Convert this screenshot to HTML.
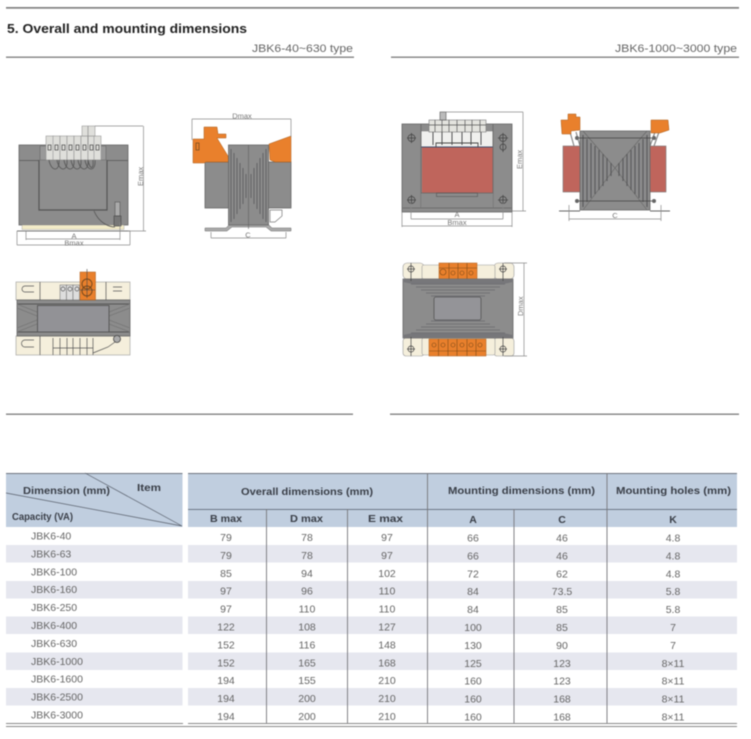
<!DOCTYPE html>
<html>
<head>
<meta charset="utf-8">
<style>
html,body{margin:0;padding:0;background:#fff;width:751px;height:739px;overflow:hidden}
svg{display:block;filter:blur(0.45px)}
text{font-family:"Liberation Sans",sans-serif}
.d{font-size:7.5px;fill:#777}
.h{font-size:10.5px;font-weight:bold;fill:#3a3f48}
.n text{font-size:10.5px;fill:#666;text-anchor:middle}
.l text{font-size:10.5px;fill:#666}
.c{fill:#8c8c8c;stroke:#666;stroke-width:.8}
.o{fill:#e9802c;stroke:#a85a18;stroke-width:.5}
.w{fill:#f5efdc;stroke:#999;stroke-width:.6}
.dl{stroke:#8a8a8a;stroke-width:.7;fill:none}
.s{stroke:#5d5d5f;stroke-width:.8;fill:none}
</style>
</head>
<body>
<svg width="751" height="739" viewBox="0 0 751 739" xmlns="http://www.w3.org/2000/svg">
<rect x="6" y="7" width="733" height="1.7" fill="#808080"/>
<text x="7" y="33" font-size="13" font-weight="bold" fill="#222" textLength="240" lengthAdjust="spacingAndGlyphs">5. Overall and mounting dimensions</text>
<text x="252" y="52" font-size="11" fill="#666" textLength="101" lengthAdjust="spacingAndGlyphs">JBK6-40~630 type</text>
<text x="615" y="52" font-size="11" fill="#666" textLength="122" lengthAdjust="spacingAndGlyphs">JBK6-1000~3000 type</text>
<rect x="6" y="56.6" width="348" height="1.2" fill="#707070"/>
<rect x="391" y="56.6" width="348" height="1.2" fill="#707070"/>
<rect x="6" y="413.6" width="347" height="1.2" fill="#707070"/>
<rect x="390" y="413.6" width="349" height="1.2" fill="#707070"/>

<!-- LEFT FRONT -->
<rect class="c" x="19" y="145" width="109" height="80"/>
<path d="M39 160V210H107V160" fill="#8e8e8e" stroke="#555" stroke-width="1.2"/>
<path d="M19 160.500H39M107 160.500H128" stroke="#555" stroke-width=".8"/>
<path d="M40 146H106V160H40z" fill="#999" stroke="#666" stroke-width=".6"/>
<rect x="22" y="225" width="102" height="4.500" fill="#f3ecc9" stroke="#999" stroke-width=".4"/>
<path d="M17 231H130" stroke="#777" stroke-width="1"/>
<path d="M17 231V245M130 231V245" class="dl"/>
<g fill="#dfdfdb" stroke="#888" stroke-width=".5">
<rect x="46" y="136" width="7.500" height="24"/><rect x="53" y="136" width="7" height="24"/><rect x="60" y="136" width="7" height="24"/><rect x="67" y="136" width="7" height="24"/><rect x="74" y="136" width="7" height="24"/><rect x="81" y="136" width="7" height="24"/><rect x="88" y="136" width="6.500" height="24"/><rect x="94" y="136" width="7" height="24"/>
<rect x="82" y="126" width="13" height="10"/>
</g>
<g fill="none" stroke="#555" stroke-width=".8">
<rect x="48" y="145" width="3" height="5"/><rect x="55" y="145" width="3" height="5"/><rect x="62" y="145" width="3" height="5"/><rect x="69" y="145" width="3" height="5"/><rect x="76" y="145" width="3" height="5"/><rect x="83" y="145" width="3" height="5"/><rect x="90" y="145" width="3" height="5"/><rect x="96" y="145" width="3" height="5"/>
<path d="M49 160c2 12 11 12 10 0M57 160c2 12 11 12 10 0M64 160c2 12 11 12 10 0M71 160c2 12 11 12 10 0M78 160c2 12 11 12 10 0M85 160c2 12 11 12 10 0M88 160c2 10 6 10 5 0"/>
<path d="M94 211c5 12 15 16 21 16"/>
</g>
<rect x="115" y="202" width="5" height="14" fill="#aaa" stroke="#555" stroke-width=".6"/>
<rect x="114" y="216" width="7" height="10" fill="#777" stroke="#444" stroke-width=".6"/>
<path d="M88 126V149M120 222V240M26 231V240M95 126H143M128 231H146M143.500 126V231M26 239H120M17 245H130" class="dl"/>
<text class="d" x="74" y="238.500" text-anchor="middle">A</text>
<text class="d" x="74" y="245.500" text-anchor="middle">Bmax</text>
<text class="d" transform="translate(143,186) rotate(-90)">Emax</text>

<!-- LEFT SIDE -->
<rect class="c" x="205" y="162" width="86" height="46"/>
<path class="o" d="M193 139H204V127H217L218 134H226V138H217L228 156L229 162H206L204 163H193Z"/>
<path class="o" d="M269 144L291 136V162H275L270 160Z"/>
<rect x="196" y="143" width="3" height="7" fill="none" stroke="#6d4a20" stroke-width=".7"/>
<path d="M205 228H226L231 223H267L272 228H291V231H271L266 227H232L227 231H205Z" fill="#aaa" stroke="#666" stroke-width=".5"/>
<rect class="c" x="228.500" y="145" width="40" height="80"/>
<g stroke="#5f5f61" stroke-width=".9">
<path d="M231 149V222M234 153V219M237 158V214M240 163V209M243 168V204M246 174V198"/>
<path d="M266 149V222M263 153V219M260 158V214M257 163V209M254 168V204M251 174V198"/>
<path d="M248.500 145V229" stroke-width=".6"/>
</g>
<path d="M270 210H282V216L275 222H270Z" fill="none" stroke="#777" stroke-width=".7"/>
<path d="M192 119H291M192 119V140M291 119V137M211 232V238M286 232V238M211 238H286" class="dl"/>
<text class="d" x="242" y="118.500" text-anchor="middle">Dmax</text>
<text class="d" x="248" y="237.500" text-anchor="middle">C</text>

<!-- LEFT BOTTOM -->
<rect class="w" x="16" y="282" width="114" height="18"/>
<rect class="w" x="16" y="336" width="114" height="19"/>
<rect class="c" x="17" y="300" width="113" height="36"/>
<path d="M17 304H130M17 332H130" stroke="#555" stroke-width="1"/>
<path d="M17 304L37 312M17 308L37 316M17 332L37 324M17 328L37 320M130 304L109 312M130 308L109 316M130 332L109 324M130 328L109 320" stroke="#777" stroke-width=".8"/>
<rect x="37.500" y="305.500" width="71.500" height="26.500" fill="#929296" stroke="#555" stroke-width=".9"/>
<rect class="o" x="80" y="272" width="15.500" height="28"/>
<circle cx="87" cy="284" r="5" fill="none" stroke="#7a4a1c"/><circle cx="87" cy="291" r="5" fill="none" stroke="#7a4a1c"/>
<path d="M87 269V298M80 290H95" stroke="#444" stroke-width=".6"/>
<g fill="#ddd" stroke="#666" stroke-width=".5"><rect x="60" y="285" width="6.500" height="15"/><rect x="66.500" y="285" width="6.500" height="15"/><rect x="73" y="285" width="6.500" height="15"/></g>
<g fill="none" stroke="#555" stroke-width=".7">
<circle cx="63" cy="289" r="2"/><circle cx="70" cy="289" r="2"/><circle cx="77" cy="289" r="2"/>
<path d="M34 286H25a3 3 0 0 0 0 6H34M34 347H25a3 3 0 0 1 0-7H34M113 287H122M113 291H122M40 282V300M106 282V300M40 336V355"/>
<path d="M53 338V355M60 338V355M67 338V355M73 338V355M80 338V355M87 338V355M93 338V355M53 348H93M93 353L108 347L115 342"/>
</g>
<circle cx="117" cy="339" r="3.500" fill="#aaa" stroke="#444" stroke-width=".8"/>

<!-- RIGHT FRONT -->
<rect class="c" x="402" y="124" width="110" height="88"/>
<rect x="421" y="131" width="72" height="16" fill="#f0f0ee" stroke="#777" stroke-width=".5"/>
<rect x="422" y="147" width="71" height="46" fill="#bf655c"/>
<path d="M421 147H493" stroke="#3f4d6e" stroke-width="1"/>
<path d="M421 124V208M493 124V208" stroke="#666" stroke-width=".8"/>
<rect x="421" y="193" width="72" height="15" fill="#8c8c8c"/>
<path d="M421 193H493M402 208H421M493 208H512M421 208H493" stroke="#666" stroke-width=".7"/>
<rect x="436.500" y="193" width="41" height="3.500" fill="none" stroke="#555" stroke-width=".6"/>
<rect x="429" y="120" width="57" height="12" fill="#e4e4df" stroke="#777" stroke-width=".6"/>
<path d="M435 120V132M442 120V132M449 120V132M457 120V132M465 120V132M472 120V132M480 120V132M429 125H486" stroke="#555" stroke-width=".7"/>
<rect x="440" y="112" width="6" height="8" fill="#bbb" stroke="#555" stroke-width=".6"/>
<path d="M433 132V145M442 132V145M452 132V145M462 132V145M471 132V145M481 132V145M436 147V143H478V147" stroke="#444" stroke-width=".9" fill="none"/>
<g fill="none" stroke="#444" stroke-width=".8">
<circle cx="411.500" cy="138" r="3.500"/><circle cx="503" cy="138" r="3.500"/><circle cx="411.500" cy="200" r="3.500"/><circle cx="503" cy="200" r="3.500"/><circle cx="503" cy="147" r="3"/>
<path d="M407 138H416M411.500 133V143M498 138H508M503 133V152M407 200H416M411.500 195V204M498 200H508M503 195V204"/>
</g>
<path d="M446 112H523M512 211H526M523 112V211M411 203V219M503 203V219M411 219H503M402 212V227M512 212V227M402 226H512" class="dl"/>
<text class="d" x="457" y="217" text-anchor="middle">A</text>
<text class="d" x="457" y="225" text-anchor="middle">Bmax</text>
<text class="d" transform="translate(522,169) rotate(-90)">Emax</text>

<!-- RIGHT SIDE -->
<rect x="563" y="146" width="18" height="46" fill="#bf655c" stroke="#777" stroke-width=".6"/>
<rect x="650" y="146" width="16" height="46" fill="#bf655c" stroke="#777" stroke-width=".6"/>
<path d="M570 132L574 146M576 132L580 146M659 132L654 146M655 132L650 146" stroke="#888" stroke-width="1.200"/>
<path class="o" d="M561 120H568V114H576V117H580V130L571 131V134H562Z"/>
<path class="o" d="M651 120H668L669 130L660 133H651Z"/>
<rect class="c" x="580" y="131" width="70" height="79"/>
<path d="M583 131L615 168L583 210M647 131L615 168L647 210" fill="none" stroke="#666" stroke-width=".6"/>
<g stroke="#58585a" stroke-width="1.100">
<path d="M583 135V207M587 139V202M591 143V198M595 146V194M599 150V190M603 154V186M607 158V181M611 163V176"/>
<path d="M647 135V207M643 139V202M639 143V198M635 146V194M631 150V190M627 154V186M623 158V181M619 163V176"/>
</g>
<path d="M576 138H655M576 201H655" stroke="#444" stroke-width=".8"/>
<path d="M559 211H580M650 211H670" stroke="#666" stroke-width="1"/>
<circle cx="577" cy="138" r="2" fill="#666"/><circle cx="654" cy="138" r="2" fill="#666"/><circle cx="577" cy="201" r="2" fill="#666"/><circle cx="654" cy="201" r="2" fill="#666"/>
<path d="M569 205V221M661 205V221M569 219H661" class="dl"/>
<text class="d" x="615" y="218" text-anchor="middle">C</text>

<!-- RIGHT BOTTOM -->
<rect class="w" x="403" y="263" width="21" height="16" rx="4"/>
<rect class="w" x="494" y="263" width="20" height="16" rx="4"/>
<rect class="w" x="422" y="265" width="73" height="14" rx="2"/>
<rect class="w" x="403" y="338" width="21" height="18" rx="3"/>
<rect class="w" x="494" y="338" width="20" height="18" rx="3"/>
<rect class="w" x="422" y="338" width="73" height="17" rx="2"/>
<rect class="o" x="439" y="263" width="38" height="17"/>
<rect class="o" x="429" y="339" width="57" height="17"/>
<g stroke="#7d4a18" stroke-width=".6" fill="none">
<circle cx="443" cy="272" r="3"/><circle cx="453" cy="273" r="2"/><circle cx="462" cy="273" r="2"/><circle cx="471" cy="273" r="2"/>
<path d="M449 263V280M458 263V280M467 263V280M439 268H477"/>
<circle cx="434" cy="345" r="2"/><circle cx="443" cy="345" r="2"/><circle cx="453" cy="345" r="2"/><circle cx="462" cy="345" r="2"/><circle cx="471" cy="345" r="2"/><circle cx="480" cy="345" r="2"/>
<path d="M438.500 339V356M448 339V356M457 339V356M467 339V356M476 339V356M429 351H486"/>
</g>
<path class="c" d="M403 279H513V338H403Z"/>
<path d="M403 279H513V282L503 284H413L403 282Z" fill="#77777a"/>
<path d="M403 338H513V335L503 333H413L403 335Z" fill="#77777a"/>
<g stroke="#707074" stroke-width=".9">
<path d="M411 284H505M416 287H500M421 290H495M426 293H490M431 296H485M411 333H505M416 330H500M421 327H495M426 324H490M431 321H485"/>
</g>
<rect x="434" y="297" width="47" height="23" rx="2" fill="#949498" stroke="#555" stroke-width=".8"/>
<g fill="none" stroke="#444" stroke-width=".7">
<circle cx="411" cy="269" r="3"/><circle cx="503" cy="269" r="3"/><circle cx="411" cy="349" r="3"/><circle cx="503" cy="349" r="3"/>
<path d="M411 263V281M503 263V281M411 337V356M503 337V356M407 269H415M499 269H507M407 349H415M499 349H507"/>
</g>
<path d="M504 263H527M504 356H527M524 263V356" class="dl"/>
<text class="d" transform="translate(523,316) rotate(-90)">Dmax</text>

<!-- TABLE -->
<rect x="6" y="473" width="176.500" height="54" fill="#c0cedf"/>
<rect x="188" y="473" width="549" height="54" fill="#c0cedf"/>
<rect x="6" y="473" width="176.500" height="1" fill="#6f7680"/>
<rect x="188" y="473" width="549" height="1" fill="#6f7680"/>
<rect x="188" y="509" width="549" height=".9" fill="#66707e"/>
<g fill="#e6e7ef">
<rect x="6" y="545" width="176.500" height="17.500"/><rect x="188" y="545" width="549" height="17.500"/>
<rect x="6" y="581" width="176.500" height="17.500"/><rect x="188" y="581" width="549" height="17.500"/>
<rect x="6" y="616.500" width="176.500" height="17.500"/><rect x="188" y="616.500" width="549" height="17.500"/>
<rect x="6" y="652.500" width="176.500" height="17.500"/><rect x="188" y="652.500" width="549" height="17.500"/>
<rect x="6" y="688" width="176.500" height="17.500"/><rect x="188" y="688" width="549" height="17.500"/>
</g>
<path d="M85 473L182 526M6 493L182 526" stroke="#59606c" stroke-width=".7"/>
<path d="M266.500 509V724M347.500 509V724M427.500 473V724M514 509V724M607 473V724" stroke="#77777c" stroke-width=".9"/>
<path d="M6 723.500H183M188 723.500H737" stroke="#8a8a8a" stroke-width="1"/>
<path d="M6 726.500H737" stroke="#8a8a8a" stroke-width="1"/>

<text class="h" x="23" y="494" textLength="87" lengthAdjust="spacingAndGlyphs">Dimension (mm)</text>
<text class="h" x="137" y="491" textLength="24" lengthAdjust="spacingAndGlyphs">Item</text>
<text class="h" x="12" y="520" textLength="61" lengthAdjust="spacingAndGlyphs">Capacity (VA)</text>
<text class="h" x="241" y="495" textLength="132" lengthAdjust="spacingAndGlyphs">Overall dimensions (mm)</text>
<text class="h" x="448" y="494" textLength="147" lengthAdjust="spacingAndGlyphs">Mounting dimensions (mm)</text>
<text class="h" x="616" y="494" textLength="115" lengthAdjust="spacingAndGlyphs">Mounting holes (mm)</text>
<text class="h" x="210" y="522" textLength="32" lengthAdjust="spacingAndGlyphs">B max</text>
<text class="h" x="290" y="522" textLength="33" lengthAdjust="spacingAndGlyphs">D max</text>
<text class="h" x="368" y="522" textLength="35" lengthAdjust="spacingAndGlyphs">E max</text>
<text class="h" x="473" y="523" text-anchor="middle">A</text>
<text class="h" x="562" y="523" text-anchor="middle">C</text>
<text class="h" x="673" y="523" text-anchor="middle">K</text>

<g class="l">
<text x="31" y="539.500">JBK6-40</text>
<text x="31" y="557.400">JBK6-63</text>
<text x="31" y="575.300">JBK6-100</text>
<text x="31" y="593.200">JBK6-160</text>
<text x="31" y="611.100">JBK6-250</text>
<text x="31" y="629">JBK6-400</text>
<text x="31" y="646.900">JBK6-630</text>
<text x="31" y="664.800">JBK6-1000</text>
<text x="31" y="682.700">JBK6-1600</text>
<text x="31" y="700.600">JBK6-2500</text>
<text x="31" y="718.500">JBK6-3000</text>
</g>
<g class="n">
<text x="226" y="541">79</text><text x="307" y="541">78</text><text x="387" y="541">97</text><text x="473" y="541.500">66</text><text x="562" y="541.500">46</text><text x="673" y="541.500">4.8</text>
<text x="226" y="558.900">79</text><text x="307" y="558.900">78</text><text x="387" y="558.900">97</text><text x="473" y="559.400">66</text><text x="562" y="559.400">46</text><text x="673" y="559.400">4.8</text>
<text x="226" y="576.800">85</text><text x="307" y="576.800">94</text><text x="387" y="576.800">102</text><text x="473" y="577.300">72</text><text x="562" y="577.300">62</text><text x="673" y="577.300">4.8</text>
<text x="226" y="594.700">97</text><text x="307" y="594.700">96</text><text x="387" y="594.700">110</text><text x="473" y="595.200">84</text><text x="562" y="595.200">73.5</text><text x="673" y="595.200">5.8</text>
<text x="226" y="612.600">97</text><text x="307" y="612.600">110</text><text x="387" y="612.600">110</text><text x="473" y="613.100">84</text><text x="562" y="613.100">85</text><text x="673" y="613.100">5.8</text>
<text x="226" y="630.500">122</text><text x="307" y="630.500">108</text><text x="387" y="630.500">127</text><text x="473" y="631">100</text><text x="562" y="631">85</text><text x="673" y="631">7</text>
<text x="226" y="648.400">152</text><text x="307" y="648.400">116</text><text x="387" y="648.400">148</text><text x="473" y="648.900">130</text><text x="562" y="648.900">90</text><text x="673" y="648.900">7</text>
<text x="226" y="666.300">152</text><text x="307" y="666.300">165</text><text x="387" y="666.300">168</text><text x="473" y="666.800">125</text><text x="562" y="666.800">123</text><text x="673" y="666.800">8×11</text>
<text x="226" y="684.200">194</text><text x="307" y="684.200">155</text><text x="387" y="684.200">210</text><text x="473" y="684.700">160</text><text x="562" y="684.700">123</text><text x="673" y="684.700">8×11</text>
<text x="226" y="702.100">194</text><text x="307" y="702.100">200</text><text x="387" y="702.100">210</text><text x="473" y="702.600">160</text><text x="562" y="702.600">168</text><text x="673" y="702.600">8×11</text>
<text x="226" y="720">194</text><text x="307" y="720">200</text><text x="387" y="720">210</text><text x="473" y="720.500">160</text><text x="562" y="720.500">168</text><text x="673" y="720.500">8×11</text>
</g>
</svg>
</body>
</html>
